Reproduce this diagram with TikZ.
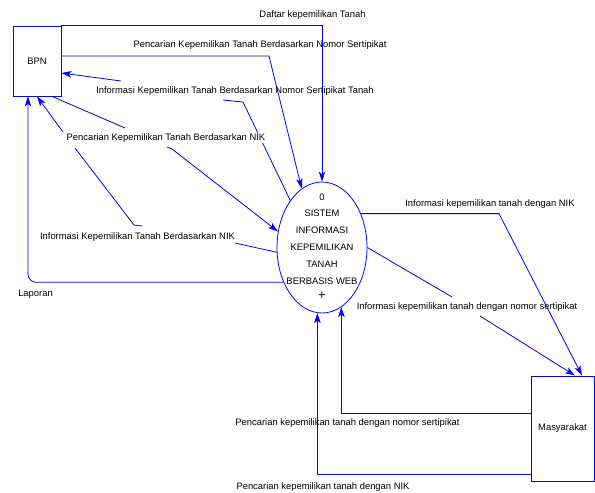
\documentclass[tikz,border=0pt]{standalone}
\usepackage{fontspec}
\setmainfont{Liberation Sans}
\usetikzlibrary{shapes.geometric,arrows.meta}
\begin{document}
\begin{tikzpicture}[x=1pt,y=-1pt,
  font=\fontsize{9.4}{11}\selectfont,
  flowline/.style={draw=blue, line width=0.8pt},
  flowarrow/.style={flowline, -{Stealth[length=10pt,width=6.5pt,inset=2.5pt]}},
  entity/.style={draw=blue, line width=0.8pt, inner sep=0pt},
  lbl/.style={inner sep=1pt, text=black},
  lblw/.style={lbl, fill=white}]
\useasboundingbox (0,0) rectangle (595,493);
\node[entity, minimum width=48pt, minimum height=70pt] (bpn) at (37,61) {BPN};
\node[entity, minimum width=63pt, minimum height=105pt] (mas) at (562.5,428.5) {Masyarakat};
\node[entity, ellipse, minimum width=90pt, minimum height=131pt] (sys) at (322,247.5) {};
\node[align=center, inner sep=0pt, font=\fontsize{9.4}{16.9}\selectfont] (systxt) at ([yshift=1pt]sys.center) {0\\SISTEM\\INFORMASI\\KEPEMILIKAN\\TANAH\\BERBASIS WEB\\[-2pt]{\fontsize{13}{13}\selectfont +}};
% coordinates
\coordinate (c2) at (269,56);
\coordinate (c3a) at (121,81);
\coordinate (c3b) at (223,100);
\coordinate (c3c) at (243,102);
\coordinate (c4a) at (125,128);
\coordinate (c4b) at (167,147);
\coordinate (c4c) at (172,149);
\coordinate (c5a) at (235,243);
\coordinate (c5b) at (142,226);
\coordinate (c5c) at (134,225);
\coordinate (c5d) at (75,148);
\coordinate (c5e) at (63,132);
\coordinate (c7) at (499,214);
\coordinate (c8a) at (452,297);
\coordinate (c8b) at (480,316);
% 1
\draw[flowarrow] (bpn.north east) -| (sys.north);
% 2
\draw[flowarrow] ([yshift=5pt]bpn.east) -- (c2) -- (sys.109);
% 3
\draw[flowarrow] (c3a) -- ([yshift=-12pt]bpn.east);
\draw[flowline] (sys.124) -- (c3c) -- (c3b);
% 4
\draw[flowline] ([xshift=15pt]bpn.south) -- (c4a);
\draw[flowarrow] (c4b) -- (c4c) -- (sys.160);
% 5
\draw[flowline] (sys.186) -- (c5a);
\draw[flowline] (c5b) -- (c5c) -- (c5d);
\draw[flowarrow] (c5e) -- (bpn.south);
% 6
\draw[flowarrow, rounded corners=8pt] (sys.222) -| ([xshift=-9pt]bpn.south);
% 7
\draw[flowarrow] (sys.41) -- (sys.41 -| c7) -- ([xshift=19.5pt]mas.north);
% 8
\draw[flowline] (sys.east) -- (c8a);
\draw[flowarrow] (c8b) -- ([xshift=12.5pt]mas.north);
% 9
\draw[flowarrow] ([yshift=15.5pt]mas.west) -| (sys.288);
% 10
\draw[flowarrow] ([yshift=-45.5pt]mas.west) -| (sys.266);
% labels
\node[lbl] (l1) at (312.5,15) {Daftar kepemilikan Tanah};
\node[lbl] (l2) at (260,45) {Pencarian Kepemilikan Tanah Berdasarkan Nomor Sertipikat};
\node[lbl] (l3) at (235,91) {Informasi Kepemilikan Tanah Berdasarkan Nomor Sertipikat Tanah};
\node[lblw] (l4) at (166,138) {Pencarian Kepemilikan Tanah Berdasarkan NIK};
\node[lbl] (l5) at (137.5,237) {Informasi Kepemilikan Tanah Berdasarkan NIK};
\node[lbl] (l6) at (35.5,294) {Laporan};
\node[lbl] (l7) at (490,204) {Informasi kepemilikan tanah dengan NIK};
\node[lbl] (l8) at (467,307) {Informasi kepemilikan tanah dengan nomor sertipikat};
\node[lbl] (l9) at (347.5,423) {Pencarian kepemilikan tanah dengan nomor sertipikat};
\node[lbl] (l10) at (323,487) {Pencarian kepemilikan tanah dengan NIK};
\end{tikzpicture}
\end{document}
